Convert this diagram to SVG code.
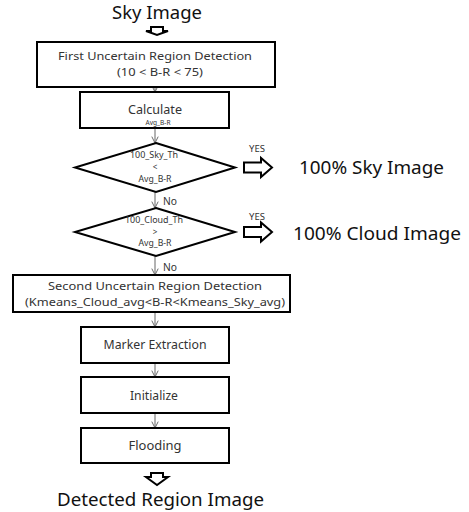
<svg xmlns="http://www.w3.org/2000/svg" width="469" height="512" viewBox="0 0 469 512">
<defs>
<style>
.box{fill:#fff;stroke:#000;stroke-width:2}
.dia{fill:#fff;stroke:#000;stroke-width:2}
.t{font-family:"Noto Sans","Open Sans",sans-serif;fill:#333;text-anchor:middle}
.big{font-family:"Noto Sans","Open Sans",sans-serif;fill:#111;font-size:18px}
.conn{stroke:#666;stroke-width:1;fill:none;marker-end:url(#ah)}
.fat{fill:#fff;stroke:#000;stroke-width:2;stroke-linejoin:miter}
</style>
<marker id="ah" viewBox="0 0 10 10" refX="9" refY="5" markerWidth="8" markerHeight="8" markerUnits="userSpaceOnUse" orient="auto">
<path d="M1,1 L9,5 L1,9" fill="none" stroke="#666" stroke-width="1.2"/>
</marker>
</defs>
<rect width="469" height="512" fill="#fff"/>

<g id="start">
<text class="big" x="157" y="19" text-anchor="middle" textLength="90" lengthAdjust="spacingAndGlyphs">Sky Image</text>
<path class="fat" d="M151,27 L163,27 L163,31 L168,31 L157,35 L146,31 L151,31 Z"/>
</g>

<g id="connectors">
<line class="conn" x1="155" y1="87" x2="155" y2="92"/>
<line class="conn" x1="155" y1="128" x2="155" y2="143"/>
<line class="conn" x1="155" y1="192" x2="155" y2="208"/>
<line class="conn" x1="155" y1="256" x2="155" y2="275"/>
<line class="conn" x1="155" y1="312" x2="155" y2="327"/>
<line class="conn" x1="155" y1="363" x2="155" y2="377"/>
<line class="conn" x1="155" y1="413" x2="155" y2="428"/>
<text class="t" x="170" y="205" font-size="10" textLength="14" lengthAdjust="spacingAndGlyphs">No</text>
<text class="t" x="170" y="271" font-size="10" textLength="14" lengthAdjust="spacingAndGlyphs">No</text>
<text class="t" x="257" y="152" font-size="8" textLength="16" lengthAdjust="spacingAndGlyphs">YES</text>
<text class="t" x="257" y="220" font-size="8" textLength="16" lengthAdjust="spacingAndGlyphs">YES</text>
</g>

<g id="n1">
<rect class="box" x="37" y="42" width="238" height="45"/>
<text class="t" x="155" y="60" font-size="11.5" textLength="194" lengthAdjust="spacingAndGlyphs">First Uncertain Region Detection</text>
<text class="t" x="160" y="76" font-size="11.5" textLength="86" lengthAdjust="spacingAndGlyphs">(10 &lt; B-R &lt; 75)</text>
</g>

<g id="n2">
<rect class="box" x="80" y="92" width="149" height="36"/>
<text class="t" x="155" y="113.5" font-size="13" textLength="54" lengthAdjust="spacingAndGlyphs">Calculate</text>
<text class="t" x="158" y="125" font-size="7" textLength="25" lengthAdjust="spacingAndGlyphs">Avg_B-R</text>
</g>

<g id="d1">
<polygon class="dia" points="156,143 235,167.5 156,192 75,167.5"/>
<text class="t" x="154" y="158" font-size="8" textLength="48" lengthAdjust="spacingAndGlyphs">100_Sky_Th</text>
<text class="t" x="155" y="170" font-size="8">&lt;</text>
<text class="t" x="155" y="181.5" font-size="8" textLength="33" lengthAdjust="spacingAndGlyphs">Avg_B-R</text>
</g>

<g id="out1">
<path class="fat" d="M244,162.5 L261,162.5 L261,158 L272,167.5 L261,177 L261,172.5 L244,172.5 Z"/>
<text class="big" x="299" y="174" textLength="145" lengthAdjust="spacingAndGlyphs">100% Sky Image</text>
</g>

<g id="d2">
<polygon class="dia" points="156,208 235,232 156,256 75,232"/>
<text class="t" x="154" y="223" font-size="8" textLength="58" lengthAdjust="spacingAndGlyphs">100_Cloud_Th</text>
<text class="t" x="155" y="234.5" font-size="8">&gt;</text>
<text class="t" x="155" y="246" font-size="8" textLength="33" lengthAdjust="spacingAndGlyphs">Avg_B-R</text>
</g>

<g id="out2">
<path class="fat" d="M244,227 L261,227 L261,222.5 L272,232 L261,241.5 L261,237 L244,237 Z"/>
<text class="big" x="293" y="240" textLength="168" lengthAdjust="spacingAndGlyphs">100% Cloud Image</text>
</g>

<g id="n3">
<rect class="box" x="13" y="275" width="277" height="37"/>
<text class="t" x="155" y="290" font-size="11" textLength="214" lengthAdjust="spacingAndGlyphs">Second Uncertain Region Detection</text>
<text class="t" x="155" y="305.5" font-size="11" textLength="260" lengthAdjust="spacingAndGlyphs">(Kmeans_Cloud_avg&lt;B-R&lt;Kmeans_Sky_avg)</text>
</g>

<g id="n4">
<rect class="box" x="81" y="327" width="148" height="36"/>
<text class="t" x="155" y="349" font-size="12.5" textLength="103" lengthAdjust="spacingAndGlyphs">Marker Extraction</text>
</g>

<g id="n5">
<rect class="box" x="81" y="377" width="148" height="36"/>
<text class="t" x="154" y="400" font-size="12.5" textLength="48" lengthAdjust="spacingAndGlyphs">Initialize</text>
</g>

<g id="n6">
<rect class="box" x="81" y="428" width="148" height="35"/>
<text class="t" x="155" y="450" font-size="12.5" textLength="53" lengthAdjust="spacingAndGlyphs">Flooding</text>
</g>

<g id="end">
<path class="fat" d="M151,473 L163,473 L163,477 L168,477 L157,485 L146,477 L151,477 Z"/>
<text class="big" x="160.5" y="506" text-anchor="middle" textLength="207" lengthAdjust="spacingAndGlyphs">Detected Region Image</text>
</g>
</svg>
